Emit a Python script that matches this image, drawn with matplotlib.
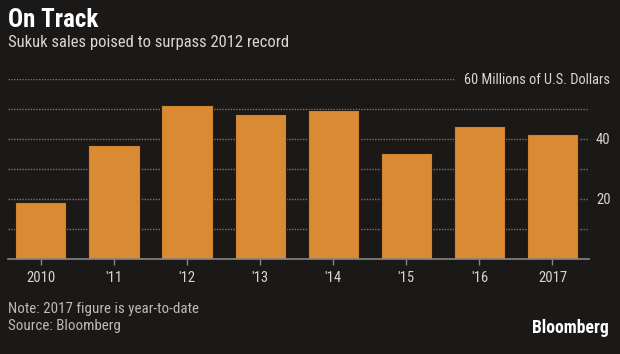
import matplotlib
matplotlib.use("Agg")
import matplotlib.pyplot as plt
from matplotlib import font_manager

categories = ["2010", "'11", "'12", "'13", "'14", "'15", "'16", "2017"]
values = [19, 38, 51.5, 48.3, 49.7, 35.4, 44.3, 41.7]
yticks = [20, 40]
grid_vals = [10, 20, 30, 40, 50, 60]

names = {f.name for f in font_manager.fontManager.ttflist}
cond = "DejaVu Sans"
for cand in ["Roboto Condensed", "Liberation Sans Narrow", "Open Sans Condensed",
             "DejaVu Sans Condensed", "Roboto", "Liberation Sans"]:
    if cand in names:
        cond = cand
        break
plt.rcParams['font.family'] = [cond, 'DejaVu Sans']

BG = "#1b1917"
BAR = "#d98a33"
TXT = "#d8d6d2"
GRID = "#77726d"

W, H = 620, 354
fig = plt.figure(figsize=(6.2, 3.54), dpi=100, facecolor=BG)
ax = fig.add_axes([8 / W, 1 - 259 / H, (589 - 8) / W, (259 - 79) / H])
ax.set_facecolor(BG)

x = list(range(len(categories)))
ax.set_xlim(-0.45, 7.5)
ax.set_ylim(0, 60)

for g in grid_vals:
    if g == 60:
        ax.plot([-0.45, 5.67], [g, g], color=GRID, lw=1.0, ls=(0, (1, 1)), zorder=1)
    else:
        ax.axhline(g, color=GRID, lw=1.0, ls=(0, (1, 1)), zorder=1)

ax.bar(x, values, width=0.7, color=BAR, edgecolor="#2a1c10", linewidth=0.8, zorder=2)

for s in ["top", "right", "left"]:
    ax.spines[s].set_visible(False)
ax.spines["bottom"].set_color("#8a8682")
ax.spines["bottom"].set_linewidth(1.2)
ax.spines["bottom"].set_zorder(3)

ax.set_xticks(x)
ax.set_xticklabels(categories, color=TXT, fontsize=10.5)
ax.tick_params(axis="x", length=4, color="#8a8682", width=1, pad=5)
ax.yaxis.tick_right()
ax.set_yticks(yticks)
ax.set_yticklabels([str(v) for v in yticks], color=TXT, fontsize=10.5)
ax.tick_params(axis="y", length=0, pad=5)

fig.text(464 / W, 1 - 84 / H, "60 Millions of U.S. Dollars", color=TXT, fontsize=10.4,
         ha="left", va="baseline")

fig.text(8 / W, 1 - 27 / H, "On Track", color="white", fontsize=18, fontweight="bold",
         ha="left", va="baseline")
fig.text(8 / W, 1 - 47 / H, "Sukuk sales poised to surpass 2012 record", color=TXT,
         fontsize=12, ha="left", va="baseline")
fig.text(8 / W, 1 - 313 / H, "Note: 2017 figure is year-to-date", color="#bdbab6",
         fontsize=10.8, ha="left", va="baseline")
fig.text(8 / W, 1 - 330 / H, "Source: Bloomberg", color="#bdbab6",
         fontsize=10.8, ha="left", va="baseline")
fig.text(609 / W, 1 - 333 / H, "Bloomberg", color="white", fontsize=12.7,
         fontweight="bold", ha="right", va="baseline")

fig.savefig("out.png", dpi=100, facecolor=BG)
